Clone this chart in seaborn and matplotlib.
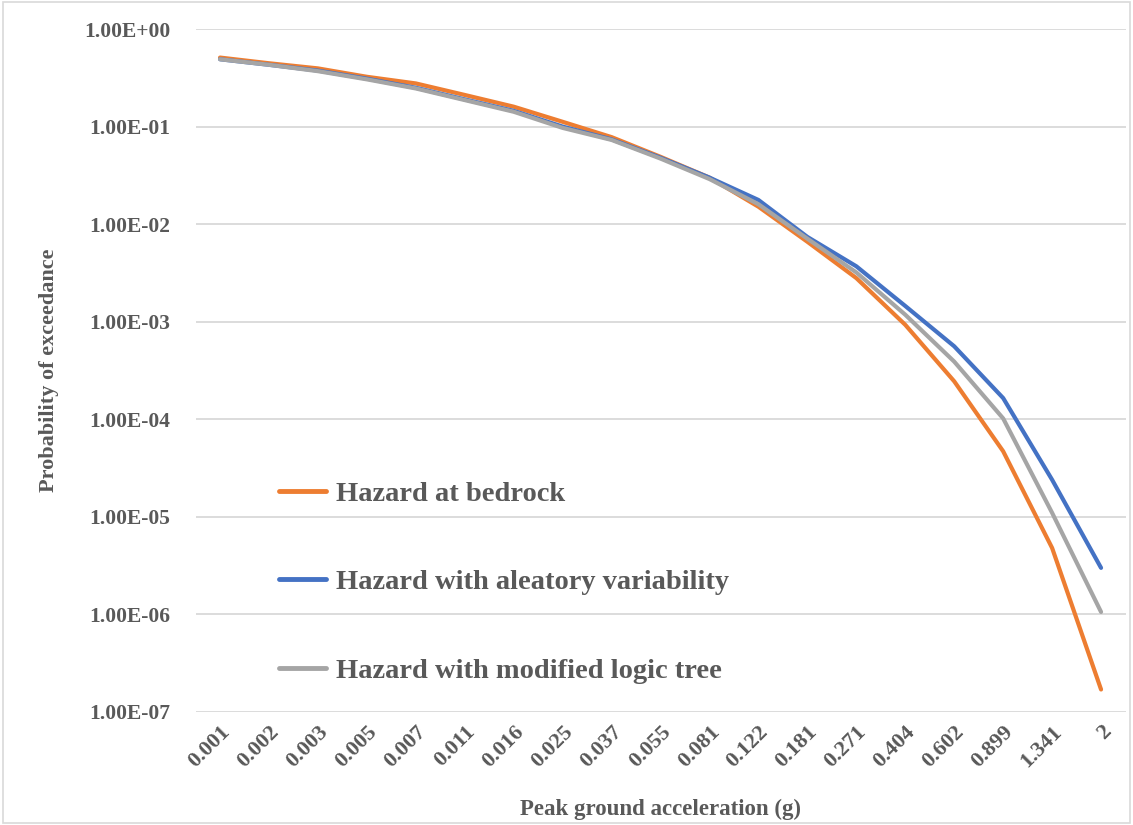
import matplotlib
matplotlib.use("Agg")
import matplotlib.pyplot as plt
from matplotlib.ticker import FuncFormatter, LogLocator, NullLocator
from matplotlib.patches import Rectangle
import seaborn as sns
import pandas as pd

pga = ["0.001", "0.002", "0.003", "0.005", "0.007", "0.011", "0.016", "0.025", "0.037",
       "0.055", "0.081", "0.122", "0.181", "0.271", "0.404", "0.602", "0.899", "1.341", "2"]

bedrock = [0.51, 0.446, 0.395, 0.324, 0.277, 0.211, 0.16, 0.112, 0.078, 0.049, 0.030,
           0.0151, 0.0066, 0.0028, 9.3e-4, 2.45e-4, 4.7e-5, 4.8e-6, 1.7e-7]
aleatory = [0.49, 0.43, 0.375, 0.31, 0.25, 0.19, 0.145, 0.1, 0.074, 0.048, 0.030,
            0.0177, 0.0074, 0.0037, 1.45e-3, 5.6e-4, 1.65e-4, 2.4e-5, 3.0e-6]
modified = [0.49, 0.43, 0.37, 0.305, 0.246, 0.187, 0.142, 0.097, 0.073, 0.047, 0.029,
            0.016, 0.0071, 0.0032, 1.18e-3, 3.9e-4, 1.02e-4, 1.1e-5, 1.06e-6]

series_names = ["Hazard at bedrock", "Hazard with aleatory variability", "Hazard with modified logic tree"]
colors = ["#ED7D31", "#4472C4", "#A5A5A5"]

df = pd.concat([
    pd.DataFrame({"pga": pga, "poe": vals, "series": name})
    for name, vals in zip(series_names, [bedrock, aleatory, modified])
])

sns.set_theme(style="white")
plt.rcParams["font.family"] = ["Liberation Serif", "DejaVu Serif"]
plt.rcParams["font.weight"] = "bold"
txt = "#595959"

fig = plt.figure(figsize=(11.33, 8.25), dpi=100)
ax = fig.add_axes([0.1726, 0.137, 0.8208, 0.8278])

sns.lineplot(data=df, x="pga", y="poe", hue="series", hue_order=series_names,
             palette=colors, linewidth=3, sort=False, ax=ax)

ax.set_yscale("log")
ax.set_ylim(1e-7, 1)
ax.set_xlim(-0.5, len(pga) - 0.5)
ax.yaxis.set_major_locator(LogLocator(base=10, numticks=20))
ax.yaxis.set_minor_locator(NullLocator())
ax.yaxis.set_major_formatter(FuncFormatter(lambda v, p: f"{v:.2E}"))
ax.grid(axis="y", color="#D9D9D9", linewidth=1.3)
ax.grid(axis="x", visible=False)
for s in ax.spines.values():
    s.set_visible(False)

ax.tick_params(axis="y", labelsize=15.5, colors=txt, length=0, pad=18)
ax.tick_params(axis="x", labelsize=16, colors=txt, length=0, pad=7)
for lab in ax.get_xticklabels():
    lab.set_rotation(45)
    lab.set_ha("right")
    lab.set_rotation_mode("anchor")
    lab.set_fontweight("bold")
for lab in ax.get_yticklabels():
    lab.set_fontweight("bold")

ax.set_xlabel("Peak ground acceleration (g)", fontsize=16.5, fontweight="bold", color=txt, labelpad=20)
ax.set_ylabel("Probability of exceedance", fontsize=16, fontweight="bold", color=txt, labelpad=18)

leg = ax.legend(loc="upper left", bbox_to_anchor=(0.062, 0.376), frameon=False,
                fontsize=20.5, labelspacing=2.2, handlelength=1.65, handletextpad=0.35)
for t in leg.get_texts():
    t.set_color(txt)
    t.set_fontweight("bold")
for h in leg.get_lines():
    h.set_linewidth(3.5)

fig.patches.append(Rectangle((0.003, 0.003), 0.994, 0.994, transform=fig.transFigure,
                             fill=False, edgecolor="#D9D9D9", linewidth=1.2))

fig.savefig("out.png", dpi=100)
